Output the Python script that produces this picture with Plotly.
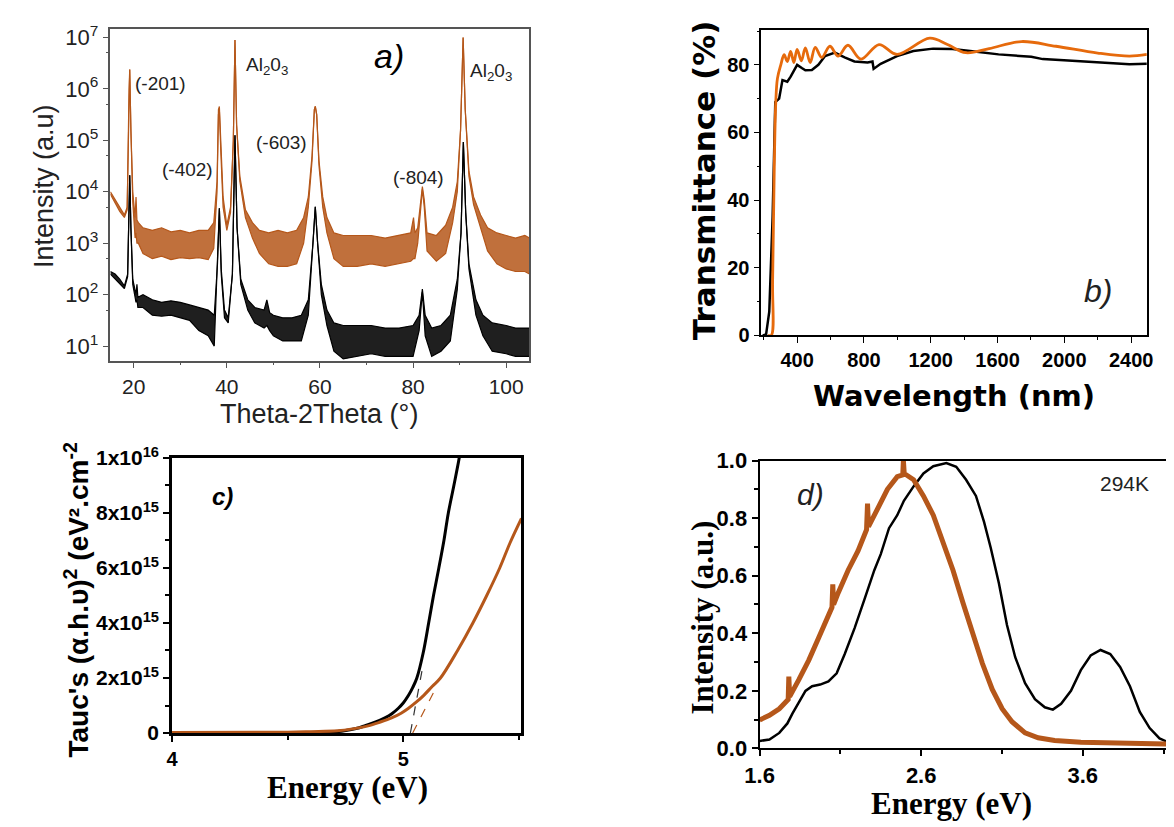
import plotly.graph_objects as go

W, H = 1174, 827

# ---- a) XRD, log10(intensity): upper / lower edge of each noisy trace ----
xrd_o_x = [15.0, 16.0, 17.0, 18.0, 18.6, 19.0, 19.15, 19.4, 19.8, 20.3, 20.5, 20.7, 21.0, 22.0, 24.0,
           26.0, 28.0, 30.0, 32.0, 34.0, 36.0, 37.2, 37.9, 38.2, 38.4, 38.7, 39.2, 40.0, 40.8, 41.4,
           41.75, 42.1, 42.8, 44.0, 45.5, 47.0, 49.0, 51.0, 53.0, 55.0, 56.5, 57.5, 58.3, 58.8, 59.0,
           59.3, 59.8, 60.6, 61.5, 63.0, 65.0, 68.0, 71.0, 74.0, 77.0, 79.5, 80.1, 80.4, 81.0, 81.7,
           82.0, 82.4, 83.0, 85.0, 87.0, 88.5, 89.5, 90.2, 90.75, 91.2, 92.0, 93.0, 94.5, 96.0, 98.0,
           100.0, 102.0, 104.0, 105.0]
xrd_o_hi = [4.0, 3.85, 3.7, 3.55, 3.7, 6.0, 6.38, 5.2, 4.0, 3.5, 3.9, 3.45, 3.4, 3.3, 3.25,
            3.3, 3.22, 3.25, 3.2, 3.25, 3.25, 3.4, 4.2, 5.6, 5.66, 5.0, 3.9, 3.35, 3.7, 5.0,
            6.95, 5.3, 4.3, 3.65, 3.4, 3.25, 3.2, 3.25, 3.2, 3.25, 3.5, 3.9, 4.7, 5.6, 5.66,
            5.5, 4.6, 3.9, 3.5, 3.2, 3.15, 3.15, 3.15, 3.1, 3.15, 3.2, 3.5, 3.2, 3.3, 3.9,
            4.1, 3.85, 3.2, 3.15, 3.35, 3.7, 4.2, 5.2, 7.0, 5.6, 4.4, 3.9, 3.55, 3.3, 3.2,
            3.15, 3.1, 3.15, 3.1]
xrd_o_lo = [3.95, 3.78, 3.62, 3.5, 3.65, 6.0, 6.38, 5.2, 3.8, 3.1, 3.2, 3.0, 3.0, 2.8, 2.7,
            2.75, 2.68, 2.72, 2.7, 2.72, 2.68, 2.9, 4.0, 5.5, 5.6, 4.8, 3.7, 3.25, 3.6, 5.0,
            6.95, 5.3, 4.2, 3.5, 3.1, 2.8, 2.6, 2.55, 2.55, 2.6, 3.0, 3.7, 4.6, 5.6, 5.66,
            5.5, 4.5, 3.7, 3.2, 2.7, 2.55, 2.55, 2.6, 2.55, 2.6, 2.65, 2.7, 2.7, 3.0, 3.8,
            4.05, 3.7, 2.85, 2.65, 2.8, 3.4, 4.0, 5.2, 7.0, 5.6, 4.3, 3.75, 3.3, 2.85, 2.6,
            2.5, 2.45, 2.45, 2.4]

xrd_k_x = [15.0, 16.0, 17.0, 18.0, 18.7, 19.0, 19.15, 19.4, 19.8, 20.5, 20.7, 20.9, 22.0, 24.0, 26.0,
           28.0, 30.0, 32.0, 34.0, 36.0, 37.3, 38.0, 38.4, 38.8, 39.5, 40.3, 41.2, 41.75, 42.2, 43.0,
           44.5, 46.0, 48.0, 48.6, 49.2, 50.0, 52.0, 54.0, 56.0, 57.5, 58.5, 59.0, 59.5, 60.3, 61.5,
           63.0, 65.0, 68.0, 71.0, 74.0, 77.0, 80.0, 81.3, 82.0, 82.6, 84.0, 86.0, 88.0, 89.5, 90.3,
           90.8, 91.3, 92.0, 93.5, 95.0, 97.0, 100.0, 102.0, 105.0]
xrd_k_hi = [2.45, 2.4, 2.3, 2.17, 2.4, 3.8, 4.32, 3.3, 2.3, 2.0, 2.2, 1.95, 2.0, 1.9, 1.85,
            1.88, 1.85, 1.8, 1.75, 1.7, 1.6, 2.6, 3.68, 2.5, 1.7, 1.55, 2.4, 5.1, 3.3, 2.3,
            1.9, 1.75, 1.7, 1.9, 1.65, 1.6, 1.55, 1.55, 1.6, 1.9, 3.0, 3.71, 3.0, 2.2, 1.7,
            1.45, 1.4, 1.4, 1.4, 1.35, 1.35, 1.4, 1.6, 2.11, 1.6, 1.35, 1.4, 1.6, 2.3, 3.2,
            4.97, 3.6, 2.6, 1.9, 1.6, 1.45, 1.4, 1.35, 1.35]
xrd_k_lo = [2.4, 2.3, 2.2, 2.12, 2.35, 3.8, 4.32, 3.3, 2.2, 1.85, 1.9, 1.75, 1.75, 1.6, 1.58,
            1.6, 1.55, 1.5, 1.3, 1.2, 1.0, 2.5, 3.68, 2.4, 1.55, 1.45, 2.4, 5.1, 3.3, 2.2,
            1.7, 1.45, 1.35, 1.4, 1.3, 1.2, 1.1, 1.1, 1.1, 1.6, 3.0, 3.71, 3.0, 2.0, 1.4,
            0.9, 0.75, 0.8, 0.85, 0.8, 0.8, 0.8, 1.3, 2.05, 1.2, 0.8, 0.9, 1.1, 2.1, 3.2,
            4.97, 3.6, 2.5, 1.6, 1.2, 0.9, 0.85, 0.8, 0.8]

# ---- b) transmittance ----
tr_k_x = [194, 214, 233, 253, 269, 292, 312, 341, 361, 400, 430, 449, 488, 527, 567, 626, 684, 743,
          822, 851, 858, 870, 900, 998, 1096, 1214, 1331, 1449, 1606, 1802, 1871, 1998, 2194, 2390, 2494]
tr_k_y = [0, 0.3, 7, 35, 69, 70, 75.5, 75, 76.5, 80, 79, 78.4, 78.5, 80, 82.6, 83.6, 82.2, 81,
          80.7, 81, 78.8, 79.2, 80.3, 82.6, 84.1, 84.8, 84.7, 84, 83.1, 82.4, 81.7, 81.4, 80.7, 80.2, 80.3]
tr_o_x = [225, 245, 253, 263, 272, 282, 302, 322, 341, 361, 380, 400, 425, 449, 478, 508, 547, 596,
          645, 704, 782, 890, 998, 1194, 1300, 1410, 1550, 1743, 1950, 2200, 2390, 2494]
tr_o_y = [0, 0, 16, 50, 69, 76, 80, 83, 81, 84, 80.7, 84.6, 81.2, 85, 80.7, 85.2, 82.2, 85.5,
          82.6, 85.8, 81.7, 86, 83.1, 87.9, 86, 83.6, 84.8, 86.9, 85.5, 83.5, 82.6, 83.1]

# ---- c) Tauc plot ----
tauc_k_x = [4.0, 4.3, 4.6, 4.7, 4.745, 4.8, 4.832, 4.88, 4.92, 4.95, 4.978, 5.0, 5.022, 5.04,
            5.058, 5.085, 5.109, 5.13, 5.153, 5.175, 5.194, 5.218, 5.241, 5.25]
tauc_k_y = [0, 0, 0.01e15, 0.04e15, 0.08e15, 0.17e15, 0.26e15, 0.4e15, 0.55e15, 0.7e15, 0.9e15,
            1.1e15, 1.37e15, 1.65e15, 2.0e15, 2.9e15, 4.0e15, 5.0e15, 6.0e15, 7.0e15, 8.0e15,
            9.0e15, 1.0e16, 1.05e16]
tauc_o_x = [4.0, 4.5, 4.6, 4.715, 4.78, 4.847, 4.9, 4.949, 4.99, 5.022, 5.055, 5.088, 5.125, 5.16,
            5.234, 5.30, 5.36, 5.416, 5.46, 5.51]
tauc_o_y = [0.02e15, 0.03e15, 0.05e15, 0.08e15, 0.15e15, 0.26e15, 0.4e15, 0.55e15, 0.72e15, 0.9e15,
            1.12e15, 1.37e15, 1.7e15, 2.0e15, 3.0e15, 4.0e15, 5.0e15, 6.0e15, 6.9e15, 7.8e15]
fit_k_x = [5.03, 5.08]
fit_k_y = [0, 2.25e15]
fit_o_x = [5.04, 5.135]
fit_o_y = [0, 1.55e15]

# ---- d) PL at 294K ----
pl_k_x = [1.6, 1.661, 1.722, 1.772, 1.803, 1.843, 1.884, 1.925, 1.975, 2.026, 2.077, 2.127, 2.188,
          2.249, 2.31, 2.35, 2.401, 2.452, 2.493, 2.553, 2.614, 2.675, 2.756, 2.817, 2.878, 2.939,
          2.989, 3.03, 3.081, 3.131, 3.182, 3.243, 3.304, 3.365, 3.415, 3.466, 3.527, 3.588, 3.649,
          3.71, 3.77, 3.831, 3.892, 3.953, 4.014, 4.075, 4.136, 4.18]
pl_k_y = [0.026, 0.031, 0.054, 0.087, 0.121, 0.16, 0.2, 0.216, 0.222, 0.233, 0.261, 0.328, 0.418,
          0.518, 0.619, 0.675, 0.765, 0.81, 0.86, 0.91, 0.955, 0.98, 0.991, 0.978, 0.933, 0.877,
          0.787, 0.698, 0.574, 0.429, 0.317, 0.227, 0.171, 0.143, 0.135, 0.155, 0.2, 0.272, 0.323,
          0.342, 0.328, 0.283, 0.216, 0.127, 0.071, 0.035, 0.02, 0.015]
pl_o_x = [1.6, 1.661, 1.722, 1.777, 1.781, 1.786, 1.843, 1.904, 1.965, 2.026, 2.048, 2.053, 2.058,
          2.087, 2.148, 2.209, 2.262, 2.268, 2.274, 2.33, 2.391, 2.452, 2.486, 2.49, 2.495, 2.553,
          2.614, 2.675, 2.736, 2.797, 2.858, 2.918, 2.979, 3.04, 3.101, 3.162, 3.243, 3.324, 3.426,
          3.588, 3.791, 3.994, 4.18]
pl_o_y = [0.099, 0.115, 0.138, 0.17, 0.25, 0.18, 0.239, 0.306, 0.384, 0.462, 0.49, 0.57, 0.5,
          0.541, 0.619, 0.686, 0.76, 0.85, 0.77, 0.832, 0.9, 0.944, 0.95, 1.0, 0.955, 0.933,
          0.877, 0.81, 0.72, 0.619, 0.507, 0.395, 0.295, 0.205, 0.138, 0.093, 0.054, 0.037, 0.028,
          0.022, 0.02, 0.017, 0.015]

ORANGE = "#B5571A"
ORANGE_FILL = "rgba(181,87,26,0.85)"
BLACK_FILL = "rgba(0,0,0,0.88)"
ORANGE_B = "#E66A0C"
SANS = "Liberation Sans, Arial, sans-serif"
SERIF = "Liberation Serif, Times New Roman, serif"
WIDE = "DejaVu Sans, Verdana, sans-serif"


def px(x):
    return x / W


def py(y):
    return 1 - y / H


fig = go.Figure()

# a)
for xs, hi, lo, col, fcol in [(xrd_k_x, xrd_k_hi, xrd_k_lo, "black", BLACK_FILL),
                              (xrd_o_x, xrd_o_hi, xrd_o_lo, ORANGE, ORANGE_FILL)]:
    fig.add_trace(go.Scatter(x=xs, y=[10 ** v for v in hi], mode="lines",
                             line=dict(color=col, width=1.2), xaxis="x", yaxis="y"))
    fig.add_trace(go.Scatter(x=xs, y=[10 ** v for v in lo], mode="lines", fill="tonexty",
                             fillcolor=fcol, line=dict(color=col, width=1.2), xaxis="x", yaxis="y"))

# b)
fig.add_trace(go.Scatter(x=tr_k_x, y=tr_k_y, mode="lines", line=dict(color="black", width=2.5),
                         xaxis="x2", yaxis="y2"))
fig.add_trace(go.Scatter(x=tr_o_x, y=tr_o_y, mode="lines",
                         line=dict(color=ORANGE_B, width=2.8, shape="spline", smoothing=1.0),
                         xaxis="x2", yaxis="y2"))

# c)
fig.add_trace(go.Scatter(x=tauc_k_x, y=tauc_k_y, mode="lines", line=dict(color="black", width=3, shape="spline"),
                         xaxis="x3", yaxis="y3"))
fig.add_trace(go.Scatter(x=tauc_o_x, y=tauc_o_y, mode="lines", line=dict(color=ORANGE, width=3, shape="spline"),
                         xaxis="x3", yaxis="y3"))
fig.add_trace(go.Scatter(x=fit_k_x, y=fit_k_y, mode="lines", line=dict(color="#333", width=1.2, dash="dash"),
                         xaxis="x3", yaxis="y3"))
fig.add_trace(go.Scatter(x=fit_o_x, y=fit_o_y, mode="lines", line=dict(color=ORANGE, width=1.2, dash="dash"),
                         xaxis="x3", yaxis="y3"))

# d)
fig.add_trace(go.Scatter(x=pl_k_x, y=pl_k_y, mode="lines", line=dict(color="black", width=2.5),
                         xaxis="x4", yaxis="y4"))
fig.add_trace(go.Scatter(x=pl_o_x, y=pl_o_y, mode="lines", line=dict(color=ORANGE, width=5),
                         xaxis="x4", yaxis="y4"))


def ax(domain, anchor, **kw):
    d = dict(domain=domain, anchor=anchor, showgrid=False, zeroline=False, showline=True,
             mirror=True, ticks="outside", linecolor="black", tickcolor="black")
    d.update(kw)
    return d


dec = [10 ** n for n in range(1, 8)]
fig.update_layout(
    width=W, height=H, margin=dict(l=0, r=0, t=0, b=0),
    paper_bgcolor="white", plot_bgcolor="white", showlegend=False,
    xaxis=ax([px(89), px(515.7)], "y", range=[15, 105], tickvals=[20, 40, 60, 80, 100],
             linecolor="#555", linewidth=1.5, tickcolor="#555", ticklen=6,
             minor=dict(tickvals=[30, 50, 70, 90], ticklen=3, ticks="outside", tickcolor="#555"),
             tickfont=dict(family=SANS, size=21, color="#222")),
    yaxis=ax([py(350), py(7)], "x", type="log", range=[0.718, 7.17], tickvals=dec,
             ticktext=["10<sup>%d</sup>" % n for n in range(1, 8)],
             linecolor="#555", linewidth=1.5, tickcolor="#555", ticklen=6,
             minor=dict(tickvals=[5 * v for v in dec[:-1]], ticklen=3, ticks="outside", tickcolor="#555"),
             tickfont=dict(family=SANS, size=22, color="#222")),
    xaxis2=ax([px(751.7), px(1144.3)], "y2", range=[185, 2494], tickvals=list(range(400, 2401, 400)),
              linewidth=1.5, ticklen=6,
              minor=dict(tickvals=list(range(200, 2401, 400)), ticklen=3, ticks="outside"),
              tickfont=dict(family=SANS, size=20, color="black", weight="bold")),
    yaxis2=ax([py(324), py(8.3)], "x2", range=[0, 90.3], tickvals=[0, 20, 40, 60, 80],
              linewidth=1.5, ticklen=6,
              minor=dict(tickvals=[10, 30, 50, 70, 90], ticklen=3, ticks="outside"),
              tickfont=dict(family=SANS, size=20, color="black", weight="bold")),
    xaxis3=ax([px(151.7), px(507.3)], "y3", range=[4, 5.509], tickvals=[4, 5],
              linewidth=2.5, tickwidth=2, ticklen=6,
              minor=dict(tickvals=[4.5, 5.5], ticklen=4, ticks="outside"),
              tickfont=dict(family=SANS, size=20, color="black", weight="bold")),
    yaxis3=ax([py(735), py(450.7)], "x3", range=[0, 1e16],
              tickvals=[0, 2e15, 4e15, 6e15, 8e15, 1e16],
              ticktext=["0", "2x10<sup>15</sup>", "4x10<sup>15</sup>", "6x10<sup>15</sup>",
                        "8x10<sup>15</sup>", "1x10<sup>16</sup>"],
              linewidth=2.5, tickwidth=2, ticklen=6,
              minor=dict(tickvals=[1e15, 3e15, 5e15, 7e15, 9e15], ticklen=4, ticks="outside"),
              tickfont=dict(family=SANS, size=21, color="black", weight="bold")),
    xaxis4=ax([px(750), 1.0], "y4", range=[1.6, 4.177], tickvals=[1.6, 2.6, 3.6],
              ticktext=["1.6", "2.6", "3.6"], linewidth=2, tickwidth=2, ticklen=6,
              minor=dict(tickvals=[2.1, 3.1, 4.1], ticklen=4, ticks="outside"),
              tickfont=dict(family=SANS, size=22, color="black", weight="bold")),
    yaxis4=ax([py(751), py(453.3)], "x4", range=[0, 1.0], tickvals=[0, 0.2, 0.4, 0.6, 0.8, 1.0],
              tickformat=".1f", mirror=False, linewidth=2, tickwidth=2, ticklen=6,
              minor=dict(tickvals=[0.1, 0.3, 0.5, 0.7, 0.9], ticklen=4, ticks="outside"),
              tickfont=dict(family=SANS, size=22, color="black", weight="bold")),
)


def note(text, x, y, family, size, angle=0, color="black", weight="normal"):
    fig.add_annotation(text=text, x=px(x), y=py(y), xref="paper", yref="paper",
                       showarrow=False, textangle=angle, xanchor="center", yanchor="middle",
                       font=dict(family=family, size=size, color=color, weight=weight))


# axis titles
note("Intensity (a.u)", 22, 170, SANS, 27, -90, "#222")
note("Theta-2Theta (°)", 301, 405, SANS, 27, 0, "#222")
note("Transmittance (%)", 693, 164, WIDE, 31, -90, weight="bold")
note("Wavelength (nm)", 948, 387, WIDE, 29, 0, weight="bold")
note("Tauc's (α.h.υ)<sup>2</sup> (eV².cm<sup>-2</sup>", 55, 598, SANS, 28, -90, weight="bold")
note("Energy (eV)", 330, 791, SERIF, 31, 0, weight="bold")
note("Intensity (a.u.)", 692, 616, SERIF, 31, -90, weight="bold")
note("Energy (eV)", 945, 808, SERIF, 31, 0, weight="bold")

# peak labels and panel letters
note("(-201)", 139.5, 64, SANS, 19, 0, "#222")
note("(-402)", 168, 152, SANS, 19, 0, "#222")
note("Al<sub>2</sub>0<sub>3</sub>", 248, 45, SANS, 19, 0, "#222")
note("(-603)", 263, 125, SANS, 19, 0, "#222")
note("(-804)", 403, 161, SANS, 19, 0, "#222")
note("Al<sub>2</sub>0<sub>3</sub>", 477, 52, SANS, 19, 0, "#222")
note("<i>a)</i>", 373, 35, SANS, 34)
note("<i>b)</i>", 1095, 278, SANS, 32, 0, "#222")
note("<i>c)</i>", 203, 490, SANS, 24, weight="bold")
note("<i>d)</i>", 802, 488, SANS, 30, 0, "#222")
note("294K", 1122, 477, SANS, 21, 0, "#222")

fig.write_html("out.html")
